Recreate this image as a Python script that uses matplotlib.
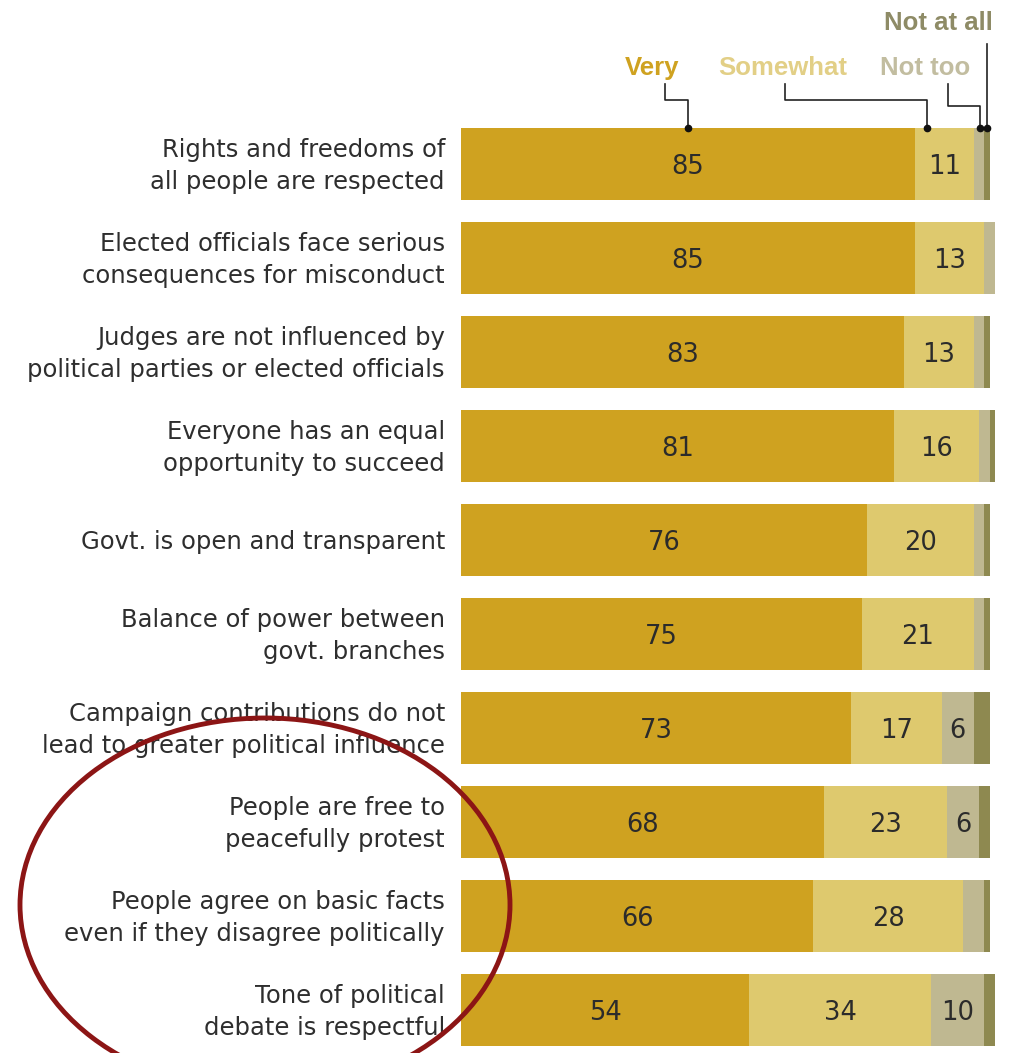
import numpy as np
import matplotlib.pyplot as plt
from matplotlib.patches import Ellipse

# Dane
items = [
    "Rights and freedoms of\nall people are respected",
    "Elected officials face serious\nconsequences for misconduct",
    "Judges are not influenced by\npolitical parties or elected officials",
    "Everyone has an equal\nopportunity to succeed",
    "Govt. is open and transparent",
    "Balance of power between\ngovt. branches",
    "Campaign contributions do not\nlead to greater political influence",
    "People are free to\npeacefully protest",
    "People agree on basic facts\neven if they disagree politically",
    "Tone of political\ndebate is respectful",
]
very = [85, 85, 83, 81, 76, 75, 73, 68, 66, 54]
somewhat = [11, 13, 13, 16, 20, 21, 17, 23, 28, 34]
not_too = [2, 2, 2, 2, 2, 2, 6, 6, 4, 10]
not_at_all = [1, 0, 1, 1, 1, 1, 3, 2, 1, 3]

series = [very, somewhat, not_too, not_at_all]
names = ["Very", "Somewhat", "Not too", "Not at all"]
colors = ["#CFA220", "#DEC96E", "#BFB891", "#8E8950"]
text_colors = ["#CFA220", "#E2CF86", "#C2BDA0", "#8E8B66"]

W, H = 1011, 1053
plt.rcParams["font.family"] = ["DejaVu Sans"]

fig = plt.figure(figsize=(W / 100, H / 100), dpi=100)
ax = fig.add_axes([461 / W, 0, 534 / W, 1])
ax.set_xlim(0, 100)
row0, step = 164, 94
ax.set_ylim((H - row0) / step, -row0 / step)
ax.axis("off")

y = np.arange(len(items))
left = np.zeros(len(items))
for vals, col in zip(series, colors):
    vals = np.array(vals)
    ax.barh(y, vals, left=left, height=0.77, color=col, linewidth=0)
    for yi, v, l in zip(y, vals, left):
        if v >= 5:
            ax.text(l + v / 2, yi + 0.03, str(v), ha="center", va="center",
                    fontsize=18.5, color="#2b2b2b")
    left += vals

for yi, lab in zip(y, items):
    ax.text(-3, yi + 0.02, lab, ha="right", va="center", fontsize=17.5,
            color="#2e2e2e", linespacing=1.45)

# Legenda z liniami prowadzącymi
top = -0.385
dot_x = [very[0] / 2, very[0] + 2.2, very[0] + somewhat[0] + 1.2,
         very[0] + somewhat[0] + 2.5]
lab_x = [35.8, 48.1, 78.5, 99.6]
lab_y = [-1.02, -1.02, -1.02, -1.5]
elbow_y = [-0.68, -0.68, -0.62, None]
line_x = [38.2, 60.7, 91.2, 98.7]
for i in range(4):
    ha = ["center", "left", "left", "right"][i]
    ax.text(lab_x[i], lab_y[i], names[i], ha=ha, va="center",
            fontsize=18.5, fontweight="bold", color=text_colors[i],
            family=["Liberation Sans", "DejaVu Sans"])
    if elbow_y[i] is None:
        xs = [dot_x[i], dot_x[i]]
        ys = [lab_y[i] + 0.22, top]
    else:
        xs = [line_x[i], line_x[i], dot_x[i], dot_x[i]]
        ys = [lab_y[i] + 0.17, elbow_y[i], elbow_y[i], top]
    ax.plot(xs, ys, color="#222222", lw=1.2, clip_on=False)
    ax.plot(dot_x[i], top, "o", color="#111111", ms=4.5, clip_on=False)

# Czerwona elipsa
ell = Ellipse((265 / W, 1 - 905 / H), 490 / W, 374 / H, transform=fig.transFigure,
              fill=False, edgecolor="#8C1515", lw=3.5)
fig.patches.append(ell)

fig.savefig("out.png", dpi=100)
